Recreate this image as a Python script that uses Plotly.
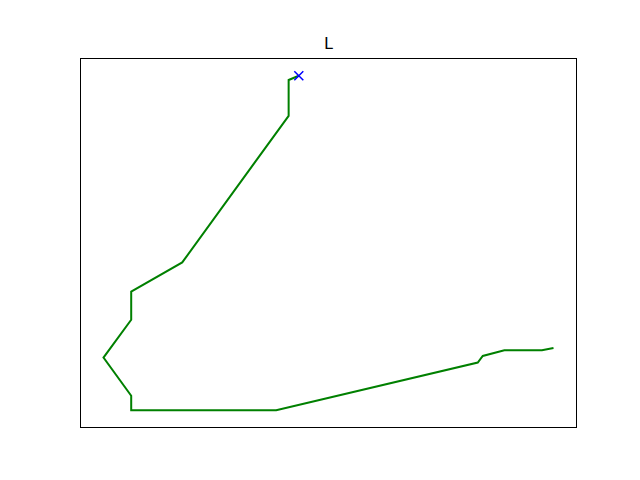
import plotly.graph_objects as go

# path points (x to the right, y upward)
path_x = [298.7, 288.5, 288.5, 181.7, 130.5, 130.5, 102.7, 130.5, 130.5, 276.0, 478.3, 483.3, 505.0, 542.7, 554.3]
path_y = [406.0, 401.7, 365.7, 218.3, 189.0, 160.7, 122.7, 84.3, 69.7, 69.7, 117.7, 124.3, 130.0, 130.0, 132.3]

# the end marker
end_x = [298.7]
end_y = [406.0]


def padded(vals, frac=0.05):
    lo, hi = min(vals), max(vals)
    pad = (hi - lo) * frac
    return [lo - pad, hi + pad]


fig = go.Figure()

fig.add_trace(go.Scatter(
    x=path_x, y=path_y,
    mode="lines",
    line=dict(color="#008000", width=2),
    showlegend=False,
))

fig.add_trace(go.Scatter(
    x=end_x, y=end_y,
    mode="markers",
    marker=dict(symbol="x-thin", size=9, color="#0000ff",
                line=dict(color="#0000ff", width=1.5)),
    showlegend=False,
))

all_x = path_x + end_x
all_y = path_y + end_y

axis_style = dict(
    showgrid=False, zeroline=False, showticklabels=False, ticks="",
    showline=True, linecolor="black", linewidth=1, mirror=True,
)

# page body adds ~7px offset, so margins are shifted to compensate
fig.update_layout(
    width=640, height=480,
    margin=dict(l=73, r=72, t=51, b=61),
    paper_bgcolor="white", plot_bgcolor="white",
    font=dict(family="DejaVu Sans", color="black"),
    title=dict(text="L", x=0.5, xanchor="center", xref="paper",
               y=1 - 35 / 480, yanchor="middle", font=dict(size=16)),
    xaxis=dict(range=padded(all_x), **axis_style),
    yaxis=dict(range=padded(all_y), **axis_style),
)

fig.write_html("out.html")
